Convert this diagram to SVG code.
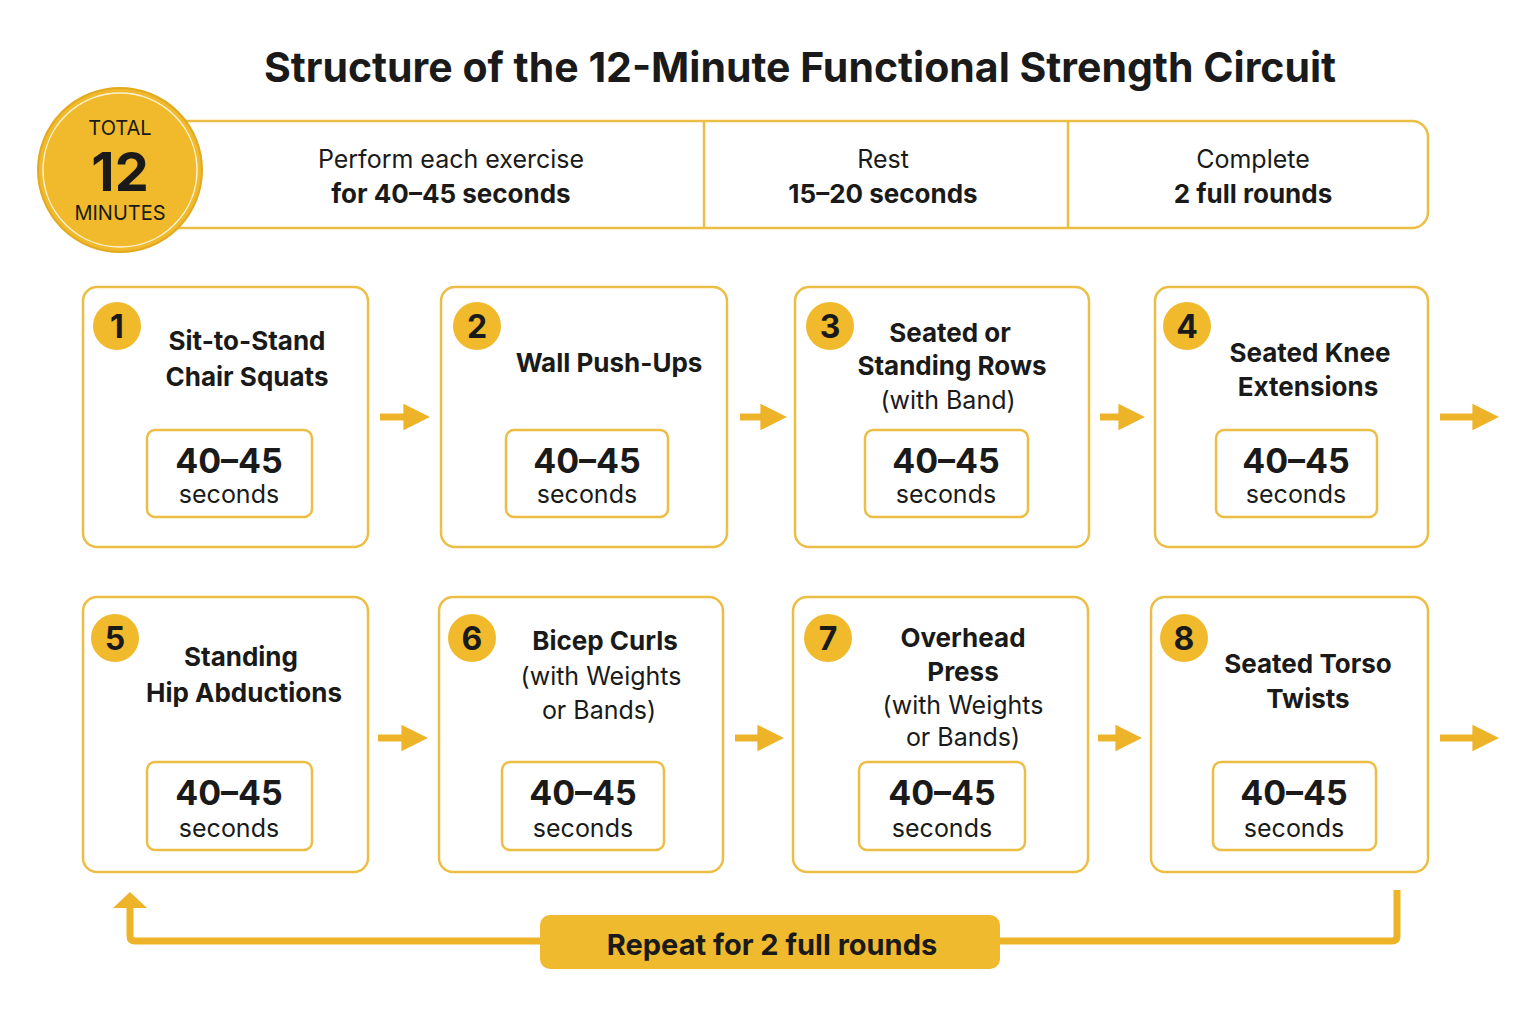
<svg xmlns="http://www.w3.org/2000/svg" width="1535" height="1016" viewBox="0 0 1535 1016">
<defs>
<style>
text{font-family:Inter,"Noto Sans","Liberation Sans",sans-serif;fill:#1a1a1a;text-anchor:middle}
.box{fill:#fff;stroke:#EDBE45;stroke-width:2.5}
.t{font-size:26px;font-weight:700}
.n{font-size:25px}
.big{font-size:34px;font-weight:700}
.sec{font-size:25px}
.badge{fill:#F0BA2C}
.bn{font-size:32px;font-weight:700}
</style>
<marker id="ah" viewBox="0 0 10 10" refX="4" refY="5" markerWidth="3.8" markerHeight="3.8" orient="auto"><path d="M0,0L10,5L0,10z" fill="#EDB42A"/></marker>
</defs>
<rect width="1535" height="1016" fill="#fff"/>
<text x="800" y="82" style="font-size:41px;font-weight:700">Structure of the 12-Minute Functional Strength Circuit</text>
<g id="header">
<rect class="box" x="160" y="121" width="1268" height="107" rx="16"/>
<line x1="704" y1="121" x2="704" y2="228" stroke="#EDBE45" stroke-width="2.5"/>
<line x1="1068" y1="121" x2="1068" y2="228" stroke="#EDBE45" stroke-width="2.5"/>
<text x="451" y="168" class="n">Perform each exercise</text>
<text x="451" y="203" class="t">for 40–45 seconds</text>
<text x="883" y="168" class="n">Rest</text>
<text x="883" y="203" class="t">15–20 seconds</text>
<text x="1253" y="168" class="n">Complete</text>
<text x="1253" y="203" class="t">2 full rounds</text>
</g>
<g id="total">
<circle cx="120" cy="170" r="82" fill="#F0BA2C" stroke="#E3AA20" stroke-width="2"/>
<circle cx="120" cy="170" r="77" fill="none" stroke="#fff" stroke-width="1.5" opacity="0.8"/>
<text x="120" y="135" style="font-size:20px">TOTAL</text>
<text x="120" y="191" style="font-size:54px;font-weight:700">12</text>
<text x="120" y="220" style="font-size:20px">MINUTES</text>
</g>
<g id="n1"><rect class="box" x="83" y="287" width="285" height="260" rx="14"/><circle class="badge" cx="117" cy="326" r="24"/><text x="117" y="338" class="bn">1</text>
<text x="247" y="350" class="t">Sit-to-Stand</text><text x="247" y="386" class="t">Chair Squats</text>
<rect class="box" x="147" y="430" width="165" height="87" rx="8"/><text x="229" y="473" class="big">40–45</text><text x="229" y="503" class="sec">seconds</text></g>
<g id="n2"><rect class="box" x="441" y="287" width="286" height="260" rx="14"/><circle class="badge" cx="477" cy="326" r="24"/><text x="477" y="338" class="bn">2</text>
<text x="609" y="372" class="t">Wall Push-Ups</text>
<rect class="box" x="506" y="430" width="162" height="87" rx="8"/><text x="587" y="473" class="big">40–45</text><text x="587" y="503" class="sec">seconds</text></g>
<g id="n3"><rect class="box" x="795" y="287" width="294" height="260" rx="14"/><circle class="badge" cx="830" cy="326" r="24"/><text x="830" y="338" class="bn">3</text>
<text x="950" y="342" class="t">Seated or</text><text x="952" y="375" class="t">Standing Rows</text><text x="948" y="409" class="n">(with Band)</text>
<rect class="box" x="865" y="430" width="163" height="87" rx="8"/><text x="946" y="473" class="big">40–45</text><text x="946" y="503" class="sec">seconds</text></g>
<g id="n4"><rect class="box" x="1155" y="287" width="273" height="260" rx="14"/><circle class="badge" cx="1187" cy="326" r="24"/><text x="1187" y="338" class="bn">4</text>
<text x="1310" y="362" class="t">Seated Knee</text><text x="1308" y="396" class="t">Extensions</text>
<rect class="box" x="1216" y="430" width="161" height="87" rx="8"/><text x="1296" y="473" class="big">40–45</text><text x="1296" y="503" class="sec">seconds</text></g>
<g id="n5"><rect class="box" x="83" y="597" width="285" height="275" rx="14"/><circle class="badge" cx="115" cy="638" r="24"/><text x="115" y="650" class="bn">5</text>
<text x="241" y="666" class="t">Standing</text><text x="244" y="702" class="t">Hip Abductions</text>
<rect class="box" x="147" y="762" width="165" height="88" rx="8"/><text x="229" y="805" class="big">40–45</text><text x="229" y="837" class="sec">seconds</text></g>
<g id="n6"><rect class="box" x="439" y="597" width="284" height="275" rx="14"/><circle class="badge" cx="472" cy="638" r="24"/><text x="472" y="650" class="bn">6</text>
<text x="605" y="650" class="t">Bicep Curls</text><text x="601" y="685" class="n">(with Weights</text><text x="599" y="719" class="n">or Bands)</text>
<rect class="box" x="502" y="762" width="162" height="88" rx="8"/><text x="583" y="805" class="big">40–45</text><text x="583" y="837" class="sec">seconds</text></g>
<g id="n7"><rect class="box" x="793" y="597" width="295" height="275" rx="14"/><circle class="badge" cx="828" cy="638" r="24"/><text x="828" y="650" class="bn">7</text>
<text x="963" y="647" class="t">Overhead</text><text x="963" y="681" class="t">Press</text><text x="963" y="714" class="n">(with Weights</text><text x="963" y="746" class="n">or Bands)</text>
<rect class="box" x="859" y="762" width="166" height="88" rx="8"/><text x="942" y="805" class="big">40–45</text><text x="942" y="837" class="sec">seconds</text></g>
<g id="n8"><rect class="box" x="1151" y="597" width="277" height="275" rx="14"/><circle class="badge" cx="1184" cy="638" r="24"/><text x="1184" y="650" class="bn">8</text>
<text x="1308" y="673" class="t">Seated Torso</text><text x="1308" y="708" class="t">Twists</text>
<rect class="box" x="1213" y="762" width="163" height="88" rx="8"/><text x="1294" y="805" class="big">40–45</text><text x="1294" y="837" class="sec">seconds</text></g>
<g id="connectors" stroke="#EDB42A" stroke-width="7" fill="none">
<line x1="380" y1="417" x2="414" y2="417" marker-end="url(#ah)"/>
<line x1="740" y1="417" x2="771" y2="417" marker-end="url(#ah)"/>
<line x1="1100" y1="417" x2="1129" y2="417" marker-end="url(#ah)"/>
<line x1="1440" y1="417" x2="1483" y2="417" marker-end="url(#ah)"/>
<line x1="378" y1="738" x2="412" y2="738" marker-end="url(#ah)"/>
<line x1="735" y1="738" x2="768" y2="738" marker-end="url(#ah)"/>
<line x1="1098" y1="738" x2="1126" y2="738" marker-end="url(#ah)"/>
<line x1="1440" y1="738" x2="1483" y2="738" marker-end="url(#ah)"/>
<path d="M1397,890 V936 Q1397,941 1392,941 H135 Q130,941 130,936 V908" stroke-linejoin="round"/>
<path d="M113,908 L130,892 L147,908 Z" fill="#EDB42A" stroke="none"/>
</g>
<g id="repeat">
<rect x="540" y="915" width="460" height="54" rx="10" fill="#EFBA2E"/>
<text x="772" y="955" style="font-size:29px;font-weight:700">Repeat for 2 full rounds</text>
</g>
</svg>
